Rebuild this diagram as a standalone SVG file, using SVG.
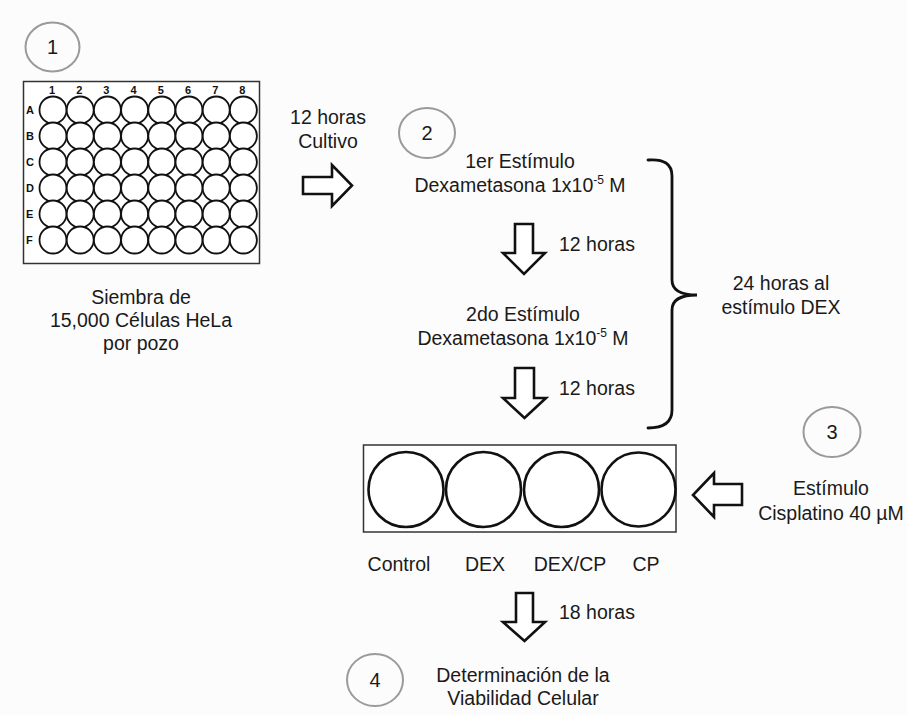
<svg xmlns="http://www.w3.org/2000/svg" width="907" height="715" viewBox="0 0 907 715">
  <style>
    .t { font-family: "Liberation Sans", Arial, sans-serif; font-size: 19.5px; fill: #1a1a1a; }
    .c { text-anchor: middle; }
    .step { fill: none; stroke: #9a9a9a; stroke-width: 2; }
    .num { font-family: "Liberation Sans", Arial, sans-serif; font-size: 20px; fill: #1a1a1a; text-anchor: middle; }
    .well { fill: #fff; stroke: #111; stroke-width: 1.8; }
    .lbl { font-family: "Liberation Sans", Arial, sans-serif; font-size: 11px; font-weight: bold; fill: #111; }
    .big { fill: #fff; stroke: #111; stroke-width: 2.6; }
    .arrow { fill: #fff; stroke: #111; stroke-width: 2.6; stroke-linejoin: miter; }
    .brace { fill: none; stroke: #111; stroke-width: 2.8; stroke-linecap: round; }
  </style>
  <defs>
    <!-- one row of 8 wells for the 48-well plate -->
    <g id="wellRow">
      <circle class="well" cx="53" cy="0" r="13.5"/>
      <circle class="well" cx="80.2" cy="0" r="13.5"/>
      <circle class="well" cx="107.4" cy="0" r="13.5"/>
      <circle class="well" cx="134.6" cy="0" r="13.5"/>
      <circle class="well" cx="161.8" cy="0" r="13.5"/>
      <circle class="well" cx="189" cy="0" r="13.5"/>
      <circle class="well" cx="216.2" cy="0" r="13.5"/>
      <circle class="well" cx="243.4" cy="0" r="13.5"/>
    </g>
  </defs>

  <rect width="907" height="715" fill="#fcfcfc"/>

  <!-- step 1: plate seeding -->
  <g id="step1">
    <ellipse class="step" cx="52.5" cy="47" rx="27" ry="24.5"/>
    <text class="num" x="52.5" y="54">1</text>
  </g>
  <g id="plate">
    <rect x="23.5" y="81.5" width="236" height="182" fill="#fff" stroke="#333" stroke-width="1.5"/>
    <g class="lbl" text-anchor="middle">
      <text x="52" y="93.5">1</text><text x="79.2" y="93.5">2</text><text x="106.4" y="93.5">3</text><text x="133.6" y="93.5">4</text>
      <text x="160.8" y="93.5">5</text><text x="188" y="93.5">6</text><text x="215.2" y="93.5">7</text><text x="242.4" y="93.5">8</text>
    </g>
    <g class="lbl">
      <text x="26" y="114">A</text><text x="26" y="140">B</text><text x="26" y="166">C</text>
      <text x="26" y="192">D</text><text x="26" y="218">E</text><text x="26" y="244">F</text>
    </g>
    <use href="#wellRow" y="110"/>
    <use href="#wellRow" y="136"/>
    <use href="#wellRow" y="162"/>
    <use href="#wellRow" y="188"/>
    <use href="#wellRow" y="214"/>
    <use href="#wellRow" y="240"/>
  </g>
  <g id="seedText">
    <text class="t c" x="141" y="304">Siembra de</text>
    <text class="t c" x="141" y="327">15,000 Células HeLa</text>
    <text class="t c" x="141" y="350">por pozo</text>
  </g>

  <!-- culture time label -->
  <g id="cultivo">
    <text class="t c" x="328" y="124">12 horas</text>
    <text class="t c" x="328" y="148">Cultivo</text>
  </g>

  <!-- step 2: dexamethasone stimuli -->
  <g id="step2">
    <ellipse class="step" cx="427" cy="133" rx="28" ry="25"/>
    <text class="num" x="427" y="140">2</text>
  </g>
  <g id="stim1">
    <text class="t c" x="520" y="168">1er Estímulo</text>
    <text class="t c" x="520" y="192">Dexametasona 1x10<tspan font-size="12" dy="-8">-5</tspan><tspan dy="8"> M</tspan></text>
  </g>
  <g id="stim2">
    <text class="t c" x="523" y="321">2do Estímulo</text>
    <text class="t c" x="523" y="345">Dexametasona 1x10<tspan font-size="12" dy="-8">-5</tspan><tspan dy="8"> M</tspan></text>
  </g>

  <!-- treatment wells -->
  <g id="wells">
    <rect x="363.5" y="445" width="312.5" height="87" fill="#fff" stroke="#333" stroke-width="1.5"/>
    <circle class="big" cx="406" cy="489.5" r="37.5"/>
    <circle class="big" cx="483.5" cy="489.5" r="37.5"/>
    <circle class="big" cx="561.5" cy="489.5" r="37.5"/>
    <circle class="big" cx="638.5" cy="489.5" r="37"/>
  </g>
  <g id="groupLabels">
    <text class="t c" x="399" y="571">Control</text>
    <text class="t c" x="485" y="571">DEX</text>
    <text class="t c" x="570" y="571">DEX/CP</text>
    <text class="t c" x="646" y="571">CP</text>
  </g>

  <!-- step 3: cisplatin -->
  <g id="step3">
    <ellipse class="step" cx="832" cy="432" rx="28.5" ry="25"/>
    <text class="num" x="832" y="439">3</text>
    <text class="t c" x="831" y="495">Estímulo</text>
    <text class="t c" x="831" y="520">Cisplatino 40 µM</text>
  </g>

  <!-- brace over the DEX period -->
  <g id="dexPeriod">
    <path class="brace" d="M648,160 Q672,158 672,176 L672,280 Q672,295 697,295 Q672,295 672,310 L672,410 Q672,428 648,428"/>
    <text class="t c" x="781" y="290">24 horas al</text>
    <text class="t c" x="781" y="314">estímulo DEX</text>
  </g>

  <!-- step 4: viability -->
  <g id="step4">
    <ellipse class="step" cx="375" cy="680" rx="28" ry="26"/>
    <text class="num" x="375" y="687">4</text>
    <text class="t c" x="523" y="682">Determinación de la</text>
    <text class="t c" x="523" y="705">Viabilidad Celular</text>
  </g>

  <!-- block arrows and time labels -->
  <g id="connectors">
    <polygon class="arrow" points="303,177 332,177 332,165 352,185.5 332,206 332,194 303,194"/>
    <polygon class="arrow" points="515,224 533,224 533,253 545,253 524,274 503,253 515,253"/>
    <text class="t" x="559" y="251">12 horas</text>
    <polygon class="arrow" points="515,368 534,368 534,398 546,398 524.5,418 503,398 515,398"/>
    <text class="t" x="559" y="395">12 horas</text>
    <polygon class="arrow" points="742,484 714,484 714,473 693,495 714,517 714,505 742,505"/>
    <polygon class="arrow" points="516,593 533,593 533,622 545,622 524.5,641 503,622 516,622"/>
    <text class="t" x="559" y="619">18 horas</text>
  </g>
</svg>
